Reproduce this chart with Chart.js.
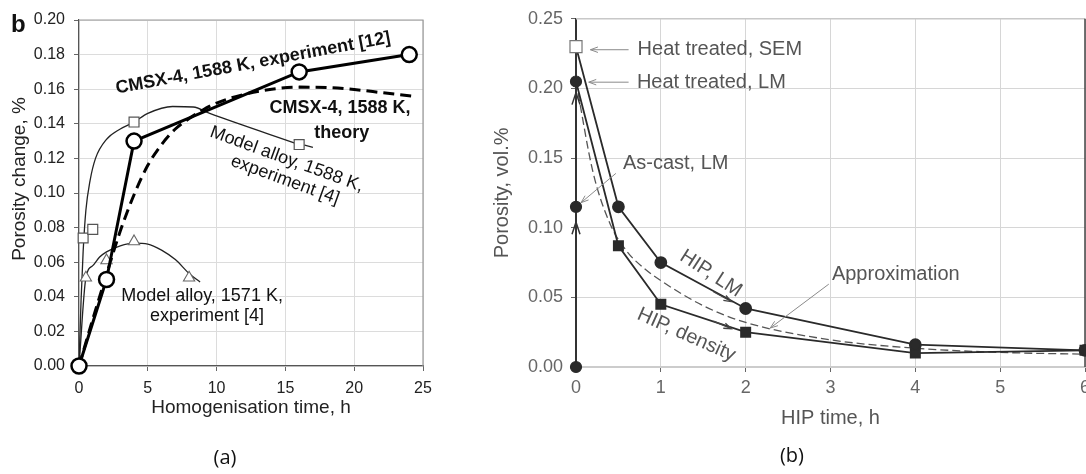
<!DOCTYPE html>
<html><head><meta charset="utf-8">
<script src="https://cdn.jsdelivr.net/npm/chart.js@4.4.1/dist/chart.umd.min.js"></script>
<style>
html,body{margin:0;padding:0;background:#fff;width:1086px;height:474px;overflow:hidden;position:relative;}
#ca{position:absolute;left:0;top:0;}
#cb{position:absolute;left:470px;top:0;}
.lbl{position:absolute;font-family:"Open Sans","Noto Sans",sans-serif;font-size:20px;line-height:24px;color:#111;text-align:center;width:60px;}
</style></head><body>
<canvas id="ca" width="450" height="474"></canvas>
<canvas id="cb" width="640" height="474"></canvas>
<div class="lbl" style="left:195px;top:445px">(a)</div>
<div class="lbl" style="left:762px;top:443px">(b)</div>
<div style="position:absolute;left:11px;top:12px;font:bold 24px 'Liberation Sans',Arial,sans-serif;line-height:1;color:#111">b</div>
<script>
Chart.defaults.font.family = "'Liberation Sans', Arial, Helvetica, sans-serif";
const pts = (xs, ys) => xs.map((x, i) => ({x: x, y: ys[i]}));

// ---------- Chart (a) data ----------
const expX = [0, 2, 4, 16, 24];
const expY = [0, 0.05, 0.13, 0.17, 0.18];
const theoryX = [0, 1, 2, 3, 4, 5, 6, 7, 8, 9, 10, 12, 14, 16, 18, 20, 22, 24.2];
const theoryY = [0, 0.027, 0.053, 0.078, 0.099, 0.116, 0.128, 0.137, 0.143, 0.148, 0.152, 0.157, 0.160, 0.1612, 0.161, 0.1598, 0.158, 0.156];
const m1588X = [0, 0.3, 1, 4, 16];
const m1588Y = [0, 0.074, 0.079, 0.141, 0.128];
const m1588FitX = [0, 0.15, 0.3, 0.5, 0.8, 1.2, 2, 3, 4, 5, 6.8, 8.3, 9.5, 16];
const m1588FitY = [0, 0.038, 0.066, 0.09, 0.107, 0.12, 0.131, 0.137, 0.141, 0.146, 0.150, 0.1497, 0.146, 0.128];
const m1571X = [0, 0.5, 2, 4, 8];
const m1571Y = [0, 0.051, 0.061, 0.072, 0.051];
const m1571FitX = [0, 0.5, 1, 1.5, 2, 3, 4, 5, 6, 7, 8, 8.8];
const m1571FitY = [0, 0.051, 0.058, 0.063, 0.066, 0.0695, 0.071, 0.0705, 0.067, 0.0615, 0.0535, 0.0485];
const xTicksA = [0, 5, 10, 15, 20, 25];
const xLabelsA = ['0', '5', '10', '15', '20', '25'];
const yTicksA = [0, 0.02, 0.04, 0.06, 0.08, 0.10, 0.12, 0.14, 0.16, 0.18, 0.20];
const yLabelsA = ['0.00', '0.02', '0.04', '0.06', '0.08', '0.10', '0.12', '0.14', '0.16', '0.18', '0.20'];

// ---------- Chart (b) data ----------
const vertX = [0, 0, 0, 0];
const vertY = [0, 0.115, 0.205, 0.23];
const lmX = [0, 0.5, 1, 2, 4, 6];
const lmY = [0.23, 0.115, 0.075, 0.042, 0.016, 0.012];
const denX = [0, 0.5, 1, 2, 4, 6];
const denY = [0.205, 0.087, 0.045, 0.025, 0.010, 0.012];
const approxX = [0, 0.2, 0.4, 0.6, 0.8, 1, 1.5, 2, 3, 4, 5, 6];
const approxY = [0.205, 0.14, 0.103, 0.083, 0.071, 0.062, 0.044, 0.032, 0.0195, 0.0135, 0.0105, 0.0092];
const xTicksB = [0, 1, 2, 3, 4, 5, 6];
const xLabelsB = ['0', '1', '2', '3', '4', '5', '6'];
const yTicksB = [0, 0.05, 0.10, 0.15, 0.20, 0.25];
const yLabelsB = ['0.00', '0.05', '0.10', '0.15', '0.20', '0.25'];

// ---------- annotations (in data units) ----------
const notesA = [
  {text: 'CMSX-4, 1588 K, experiment [12]', x: 12.65, y: 0.175, rot: -10.5, bold: true},
  {text: 'CMSX-4, 1588 K,', x: 18.97, y: 0.149, rot: 0, bold: true},
  {text: 'theory', x: 19.1, y: 0.1347, rot: 0, bold: true},
  {text: 'Model alloy, 1588 K,', x: 15.1, y: 0.1195, rot: 20, bold: false},
  {text: 'experiment [4]', x: 14.97, y: 0.1075, rot: 20, bold: false},
  {text: 'Model alloy, 1571 K,', x: 8.94, y: 0.0405, rot: 0, bold: false},
  {text: 'experiment [4]', x: 9.3, y: 0.029, rot: 0, bold: false}
];
const pointersA = [{x1: 16.4, y1: 0.1277, x2: 17.0, y2: 0.1264, head: false}];
const notesB = [
  {text: 'Heat treated, SEM', x: 0.726, y: 0.2278, rot: 0, align: 'left'},
  {text: 'Heat treated, LM', x: 0.718, y: 0.2045, rot: 0, align: 'left'},
  {text: 'As-cast, LM', x: 0.553, y: 0.146, rot: 0, align: 'left'},
  {text: 'HIP, LM', x: 1.59, y: 0.067, rot: 33, align: 'center'},
  {text: 'HIP, density', x: 1.30, y: 0.023, rot: 24, align: 'center'},
  {text: 'Approximation', x: 3.77, y: 0.0665, rot: 0, align: 'center'}
];
const pointersB = [
  {x1: 0.62, y1: 0.2278, x2: 0.17, y2: 0.2278, head: true},
  {x1: 0.62, y1: 0.2045, x2: 0.15, y2: 0.2045, head: true},
  {x1: 0.47, y1: 0.139, x2: 0.06, y2: 0.118, head: true},
  {x1: 2.98, y1: 0.0595, x2: 2.29, y2: 0.028, head: true},
  {x1: 1.62, y1: 0.054, x2: 1.83, y2: 0.047, head: true},
  {x1: 1.62, y1: 0.033, x2: 1.83, y2: 0.0275, head: true}
];
const upArrowsB = [{x: 0, y: 0.197}, {x: 0, y: 0.104}];

function drawPointer(ctx, sx, sy, p, color, w) {
  const x1 = sx.getPixelForValue(p.x1), y1 = sy.getPixelForValue(p.y1);
  const x2 = sx.getPixelForValue(p.x2), y2 = sy.getPixelForValue(p.y2);
  ctx.strokeStyle = color; ctx.lineWidth = w;
  ctx.beginPath(); ctx.moveTo(x1, y1); ctx.lineTo(x2, y2); ctx.stroke();
  if (p.head) {
    const a = Math.atan2(y2 - y1, x2 - x1), L = 8;
    ctx.beginPath();
    ctx.moveTo(x2 - L * Math.cos(a - 0.35), y2 - L * Math.sin(a - 0.35));
    ctx.lineTo(x2, y2);
    ctx.lineTo(x2 - L * Math.cos(a + 0.35), y2 - L * Math.sin(a + 0.35));
    ctx.stroke();
  }
}
function drawNote(ctx, sx, sy, n, font, color) {
  ctx.save();
  ctx.translate(sx.getPixelForValue(n.x), sy.getPixelForValue(n.y));
  ctx.rotate((n.rot || 0) * Math.PI / 180);
  ctx.font = font; ctx.fillStyle = color;
  ctx.textAlign = n.align || 'center'; ctx.textBaseline = 'middle';
  ctx.fillText(n.text, 0, 0);
  ctx.restore();
}

const plotA = {
  id: 'plotA',
  beforeDatasetsDraw(chart) {
    const {ctx, chartArea: a} = chart;
    ctx.save(); ctx.strokeStyle = '#9a9a9a'; ctx.lineWidth = 1.2;
    ctx.beginPath(); ctx.moveTo(a.left, a.top); ctx.lineTo(a.right, a.top); ctx.lineTo(a.right, a.bottom); ctx.stroke();
    ctx.restore();
  },
  afterDraw(chart) {
    const {ctx, scales: {x, y}} = chart;
    ctx.save();
    pointersA.forEach(p => drawPointer(ctx, x, y, p, '#222', 1.2));
    notesA.forEach(n => drawNote(ctx, x, y, n, (n.bold ? 'bold ' : '') + "18px 'Liberation Sans', Arial, sans-serif", '#111'));
    ctx.translate(20, 179); ctx.rotate(-Math.PI / 2);
    ctx.font = "19px 'Liberation Sans', Arial, sans-serif"; ctx.fillStyle = '#222';
    ctx.textAlign = 'center'; ctx.textBaseline = 'middle';
    ctx.fillText('Porosity change, %', 0, 0);
    ctx.restore();
  }
};

const plotB = {
  id: 'plotB',
  beforeDatasetsDraw(chart) {
    const {ctx, chartArea: a} = chart;
    ctx.save();
    ctx.strokeStyle = '#c8c8c8'; ctx.lineWidth = 1.5;
    ctx.beginPath(); ctx.moveTo(a.left, a.top); ctx.lineTo(a.right, a.top); ctx.stroke();
    ctx.strokeStyle = '#444'; ctx.lineWidth = 1.5;
    ctx.beginPath(); ctx.moveTo(a.right, a.top); ctx.lineTo(a.right, a.bottom); ctx.stroke();
    ctx.restore();
  },
  afterDraw(chart) {
    const {ctx, scales: {x, y}} = chart;
    ctx.save();
    pointersB.forEach((p, i) => drawPointer(ctx, x, y, p, i < 4 ? '#8a8a8a' : '#444', i < 4 ? 1 : 1.3));
    upArrowsB.forEach(u => {
      const px = x.getPixelForValue(u.x), py = y.getPixelForValue(u.y);
      ctx.strokeStyle = '#333'; ctx.fillStyle = '#333'; ctx.lineWidth = 1.5;
      ctx.beginPath(); ctx.moveTo(px - 4, py + 12); ctx.lineTo(px, py); ctx.lineTo(px + 4, py + 12); ctx.stroke();
    });
    notesB.forEach(n => drawNote(ctx, x, y, n, "20px 'Liberation Sans', Arial, sans-serif", '#555'));
    ctx.restore();
  }
};

const baseOpts = {
  responsive: false, animation: false, devicePixelRatio: 1,
  plugins: {legend: {display: false}, tooltip: {enabled: false}}
};

new Chart(document.getElementById('ca'), {
  type: 'scatter',
  data: {datasets: [
    {data: pts(expX, expY), showLine: true, borderColor: '#000', borderWidth: 3,
     pointRadius: 7.5, pointBackgroundColor: '#fff', pointBorderColor: '#000', pointBorderWidth: 2.5, clip: false},
    {data: pts(m1588X, m1588Y), showLine: false, pointStyle: 'rect', pointRadius: 7,
     pointBackgroundColor: '#fff', pointBorderColor: '#555', pointBorderWidth: 1.2, clip: false},
    {data: pts(m1571X, m1571Y), showLine: false, pointStyle: 'triangle', pointRadius: 6.5,
     pointBackgroundColor: '#fff', pointBorderColor: '#666', pointBorderWidth: 1.1, clip: false},
    {data: pts(theoryX, theoryY), showLine: true, borderColor: '#000', borderWidth: 3, borderDash: [11, 6],
     pointRadius: 0, cubicInterpolationMode: 'monotone'},
    {data: pts(m1588FitX, m1588FitY), showLine: true, borderColor: '#222', borderWidth: 1.3,
     pointRadius: 0, cubicInterpolationMode: 'monotone'},
    {data: pts(m1571FitX, m1571FitY), showLine: true, borderColor: '#222', borderWidth: 1.3,
     pointRadius: 0, cubicInterpolationMode: 'monotone'}
  ]},
  options: Object.assign({}, baseOpts, {
    layout: {padding: {left: 0, top: 20, right: 27, bottom: 0}},
    scales: {
      x: {type: 'linear', min: 0, max: 25,
        afterBuildTicks: s => { s.ticks = xTicksA.map(v => ({value: v})); },
        afterFit: s => { s.height = 108; },
        ticks: {callback: (v, i) => xLabelsA[i], font: {size: 16}, color: '#222', padding: 8, maxRotation: 0},
        grid: {color: '#dcdcdc', tickColor: '#666', tickLength: 5},
        border: {display: true, color: '#555', width: 1.2},
        title: {display: true, text: 'Homogenisation time, h', font: {size: 19}, color: '#222', padding: {top: 0, bottom: 55}}
      },
      y: {type: 'linear', min: 0, max: 0.2,
        afterBuildTicks: s => { s.ticks = yTicksA.map(v => ({value: v})); },
        afterFit: s => { s.width = 79; },
        ticks: {callback: (v, i) => yLabelsA[i], font: {size: 16}, color: '#222', padding: 9},
        grid: {color: '#dcdcdc', tickColor: '#666', tickLength: 5},
        border: {display: true, color: '#555', width: 1.2}
      }
    }
  }),
  plugins: [plotA]
});

new Chart(document.getElementById('cb'), {
  type: 'scatter',
  data: {datasets: [
    {data: pts(vertX, vertY), showLine: true, borderColor: '#333', borderWidth: 2,
     pointStyle: ['circle', 'circle', 'circle', 'rect'], pointRadius: [5.5, 5.5, 5.5, 8.5],
     pointBackgroundColor: ['#2a2a2a', '#2a2a2a', '#2a2a2a', '#fff'],
     pointBorderColor: ['#2a2a2a', '#2a2a2a', '#2a2a2a', '#777'], pointBorderWidth: 1.2, clip: false},
    {data: pts(lmX, lmY), showLine: true, borderColor: '#2a2a2a', borderWidth: 1.8,
     pointStyle: 'circle', pointRadius: ctx => ctx.dataIndex === 0 ? 0 : 5.5,
     pointBackgroundColor: '#2a2a2a', pointBorderColor: '#2a2a2a', clip: false},
    {data: pts(denX, denY), showLine: true, borderColor: '#2a2a2a', borderWidth: 1.8,
     pointStyle: 'rect', pointRadius: ctx => ctx.dataIndex === 0 ? 0 : 6.5,
     pointBackgroundColor: '#2a2a2a', pointBorderColor: '#2a2a2a', clip: false},
    {data: pts(approxX, approxY), showLine: true, borderColor: '#555', borderWidth: 1.3, borderDash: [8, 4],
     pointRadius: 0, cubicInterpolationMode: 'monotone', clip: false}
  ]},
  options: Object.assign({}, baseOpts, {
    layout: {padding: {left: 0, top: 11, right: 25, bottom: 0}},
    scales: {
      x: {type: 'linear', min: 0, max: 6,
        afterBuildTicks: s => { s.ticks = xTicksB.map(v => ({value: v})); },
        afterFit: s => { s.height = 107; },
        ticks: {callback: (v, i) => xLabelsB[i], font: {size: 18}, color: '#666', padding: 5, maxRotation: 0},
        grid: {color: '#d6d6d6', tickColor: '#666', tickLength: 5},
        border: {display: true, color: '#cccccc', width: 2},
        title: {display: true, text: 'HIP time, h', font: {size: 20}, color: '#555', padding: {top: 0, bottom: 44}}
      },
      y: {type: 'linear', min: 0, max: 0.25,
        afterBuildTicks: s => { s.ticks = yTicksB.map(v => ({value: v})); },
        afterFit: s => { s.width = 106; },
        ticks: {callback: (v, i) => yLabelsB[i], font: {size: 18}, color: '#666', padding: 8},
        grid: {color: '#d6d6d6', tickColor: '#666', tickLength: 5},
        border: {display: true, color: '#333', width: 2},
        title: {display: true, text: 'Porosity, vol.%', font: {size: 20}, color: '#555', padding: {top: 20, bottom: 0}}
      }
    }
  }),
  plugins: [plotB]
});
</script>
</body></html>
